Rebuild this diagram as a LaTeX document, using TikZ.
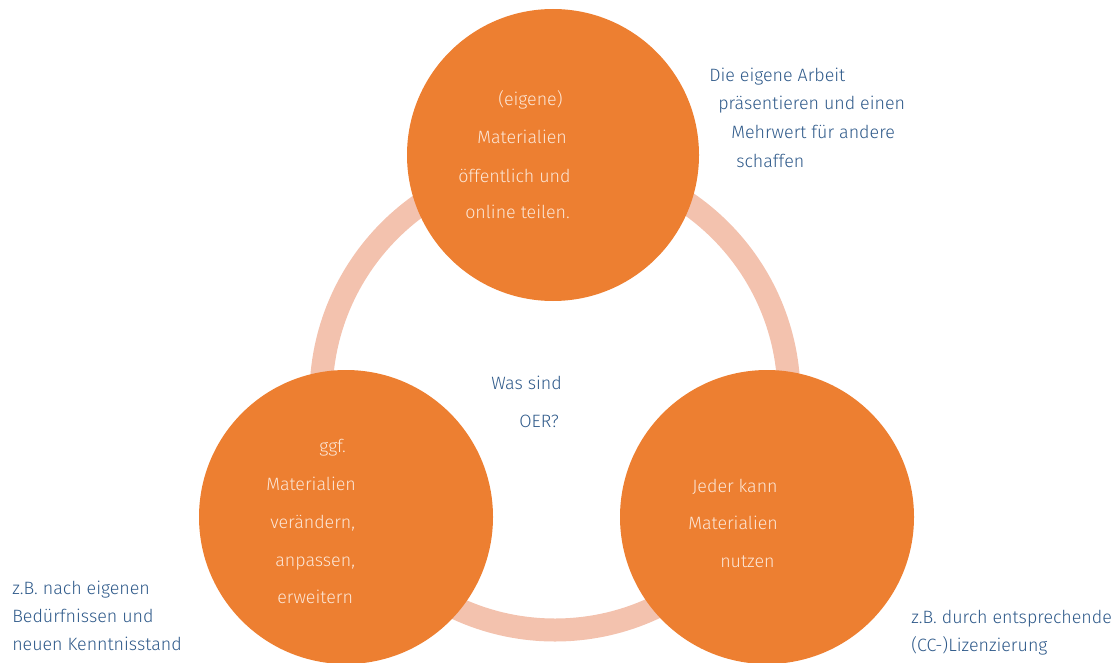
\documentclass[tikz,border=0pt]{standalone}
\usepackage{fontspec}
\setmainfont{Fira Sans}[UprightFont={* Light}]
\definecolor{oerorange}{HTML}{ED7F31}
\definecolor{oerring}{HTML}{F3C2AE}
\definecolor{oerblue}{HTML}{2F5A8A}
\definecolor{oercream}{HTML}{FCE6D6}
\begin{document}
\begin{tikzpicture}[x=0.75pt,y=-0.75pt,
  bubble/.style={circle,fill=oerorange,draw=none,minimum size=#1*0.75pt,inner sep=0pt},
  inner/.style={text=oercream,font=\fontsize{13.4}{15}\selectfont,anchor=base west,inner sep=0pt},
  outer/.style={text=oerblue,font=\fontsize{13.4}{15}\selectfont,anchor=base west,inner sep=0pt}]
\useasboundingbox (0,0) rectangle (1120,663);
\node[circle,draw=oerring,line width=17.25pt,minimum size=351pt,inner sep=0pt] (ring) at (555,396) {};
\node[bubble=292] (top) at (553,155) {};
\node[bubble=294] (left) at (346,517) {};
\node[bubble=294] (right) at (767,517) {};
% top circle text
\node[inner] (t1) at (498,106) {(eigene)};
\node[inner] (t2) at (477,144) {Materialien};
\node[inner] (t3) at (458,182) {öffentlich und};
\node[inner] (t4) at (465,219) {online teilen.};
% left circle text
\node[inner] (l1) at (319,452) {ggf.};
\node[inner] (l2) at (266,490) {Materialien};
\node[inner] (l3) at (270,528) {verändern,};
\node[inner] (l4) at (275,566) {anpassen,};
\node[inner] (l5) at (277,603) {erweitern};
% right circle text
\node[inner] (r1) at (692,492) {Jeder kann};
\node[inner] (r2) at (688,529) {Materialien};
\node[inner] (r3) at (720,567) {nutzen};
% center
\node[outer] (c1) at (491,389) {Was sind};
\node[outer] (c2) at (519,427) {OER?};
% top-right annotation
\node[outer] (a1) at (709,82) {Die eigene Arbeit};
\node[outer] (a2) at (718,110) {präsentieren und einen};
\node[outer] (a3) at (731,139) {Mehrwert für andere};
\node[outer] (a4) at (736,167) {schaffen};
% bottom-left annotation
\node[outer] (b1) at (12,594) {z.B. nach eigenen};
\node[outer] (b2) at (12,622) {Bedürfnissen und};
\node[outer] (b3) at (12,650) {neuen Kenntnisstand};
% bottom-right annotation
\node[outer] (d1) at (911,623) {z.B. durch entsprechende};
\node[outer] (d2) at (911,651) {(CC-)Lizenzierung};
\end{tikzpicture}
\end{document}
